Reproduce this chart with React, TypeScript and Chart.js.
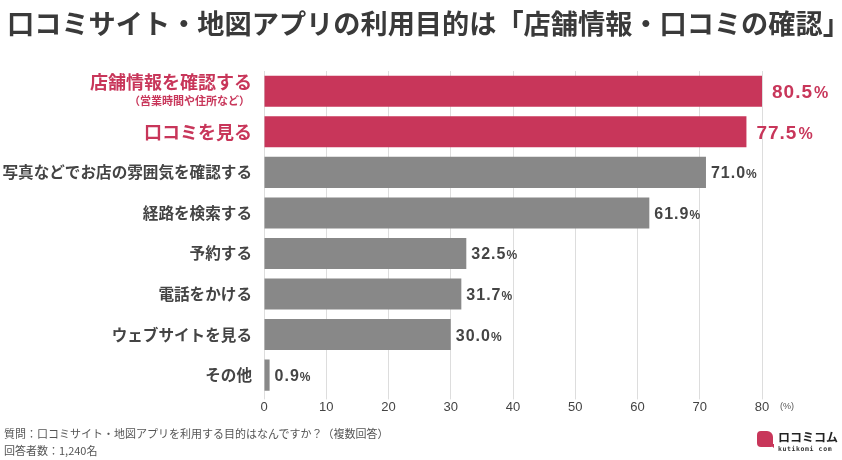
import React, { useEffect, useRef } from "react";
import { Chart, registerables } from "chart.js";

Chart.register(...registerables);

const categories = [
  "店舗情報を確認する",
  "口コミを見る",
  "写真などでお店の雰囲気を確認する",
  "経路を検索する",
  "予約する",
  "電話をかける",
  "ウェブサイトを見る",
  "その他",
];
const subLabels = ["（営業時間や住所など）", "", "", "", "", "", "", ""];
const values = [80.5, 77.5, 71.0, 61.9, 32.5, 31.7, 30.0, 0.9];
const highlighted = [true, true, false, false, false, false, false, false];
const xTicks = [0, 10, 20, 30, 40, 50, 60, 70, 80];

const PINK = "#C8365A";
const GRAY = "#888888";
const JP = '"Noto Sans CJK JP", "Noto Sans", sans-serif';
const NUM = '"Liberation Sans", Arial, sans-serif';

const labelPlugin = {
  id: "customLabels",
  afterDatasetsDraw(chart: any) {
    const ctx = chart.ctx;
    const meta = chart.getDatasetMeta(0);
    const area = chart.chartArea;
    ctx.save();
    meta.data.forEach((bar: any, i: number) => {
      const y = bar.y;
      const hi = highlighted[i];
      // category labels
      ctx.letterSpacing = "0px";
      ctx.textAlign = "right";
      ctx.textBaseline = "middle";
      if (hi) {
        ctx.fillStyle = PINK;
        ctx.font = `bold 18px ${JP}`;
        if (subLabels[i]) {
          ctx.fillText(categories[i], 252, y - 9);
          ctx.font = `bold 11px ${JP}`;
          ctx.fillText(subLabels[i], 250, y + 10);
        } else {
          ctx.fillText(categories[i], 252, y);
        }
      } else {
        ctx.fillStyle = "#444444";
        ctx.font = `bold 15.6px ${JP}`;
        ctx.fillText(categories[i], 252, y);
      }
      // value labels
      const endX = Math.min(bar.x, area.right);
      ctx.textAlign = "left";
      ctx.textBaseline = "alphabetic";
      const num = values[i].toFixed(1);
      if (hi) {
        ctx.fillStyle = PINK;
        ctx.font = `bold 19px ${NUM}`;
        ctx.letterSpacing = "1px";
        const x0 = endX + 10;
        ctx.fillText(num, x0, y + 7);
        const w = ctx.measureText(num).width;
        ctx.letterSpacing = "0px";
        ctx.font = `bold 16px ${NUM}`;
        ctx.fillText("%", x0 + w + 1, y + 7);
      } else {
        ctx.fillStyle = "#444444";
        ctx.font = `bold 16px ${NUM}`;
        ctx.letterSpacing = "1px";
        const x0 = endX + 5;
        ctx.fillText(num, x0, y + 6);
        const w = ctx.measureText(num).width;
        ctx.letterSpacing = "0px";
        ctx.font = `bold 12px ${NUM}`;
        ctx.fillText("%", x0 + w, y + 6);
      }
    });
    // (%) unit
    ctx.letterSpacing = "0px";
    ctx.fillStyle = "#555555";
    ctx.font = `9px ${NUM}`;
    ctx.textAlign = "left";
    ctx.textBaseline = "middle";
    ctx.fillText("(%)", area.right + 18, 407);
    ctx.restore();
  },
};

export default function App() {
  const ref = useRef<HTMLCanvasElement>(null);
  useEffect(() => {
    if (!ref.current) return;
    const chart = new Chart(ref.current, {
      type: "bar",
      data: {
        labels: categories,
        datasets: [
          {
            data: values,
            backgroundColor: highlighted.map((h) => (h ? PINK : GRAY)),
            borderWidth: 0,
            categoryPercentage: 0.765,
            barPercentage: 1,
          },
        ],
      },
      options: {
        indexAxis: "y",
        animation: false,
        responsive: false,
        maintainAspectRatio: false,
        layout: { padding: { left: 256, right: 80, top: 71, bottom: 45 } },
        plugins: {
          legend: { display: false },
          tooltip: { enabled: false },
          title: { display: false },
        },
        scales: {
          x: {
            min: 0,
            max: 80,
            afterBuildTicks: (axis: any) => {
              axis.ticks = xTicks.map((v) => ({ value: v }));
            },
            grid: { color: "#dddddd", tickLength: 4, drawTicks: true },
            border: { display: false },
            ticks: {
              color: "#444444",
              font: { family: NUM, size: 13 },
              padding: 0,
            },
          },
          y: {
            grid: { display: false },
            border: { display: false },
            ticks: { display: false },
          },
        },
      },
      plugins: [labelPlugin],
    });
    return () => chart.destroy();
  }, []);

  return (
    <div
      style={{
        position: "fixed",
        left: 0,
        top: 0,
        width: 842,
        height: 460,
        background: "#ffffff",
        overflow: "hidden",
      }}
    >
      <canvas ref={ref} width={842} height={460} style={{ position: "absolute", left: 0, top: 0 }} />
      <div
        style={{
          position: "absolute",
          left: 7,
          top: 5,
          fontFamily: JP,
          fontWeight: 700,
          fontSize: 27.2,
          lineHeight: "34px",
          color: "#3a3a3a",
          whiteSpace: "nowrap",
        }}
      >
        口コミサイト・地図アプリの利用目的は「店舗情報・口コミの確認」
      </div>
      <div
        style={{
          position: "absolute",
          left: 4,
          top: 425,
          fontFamily: JP,
          fontSize: 11,
          lineHeight: "17px",
          color: "#555555",
          whiteSpace: "nowrap",
        }}
      >
        <div>質問：口コミサイト・地図アプリを利用する目的はなんですか？（複数回答）</div>
        <div>回答者数：1,240名</div>
      </div>
      <div style={{ position: "absolute", left: 757, top: 431 }}>
        <div
          style={{
            position: "absolute",
            left: 0,
            top: 0,
            width: 16,
            height: 16,
            background: PINK,
            borderRadius: "4px 6px 2px 4px",
          }}
        />
        <div
          style={{
            position: "absolute",
            left: 12,
            top: 13,
            width: 5,
            height: 4,
            background: PINK,
            clipPath: "polygon(0 0, 100% 0, 100% 100%)",
          }}
        />
        <div
          style={{
            position: "absolute",
            left: 21,
            top: -1,
            fontFamily: JP,
            fontWeight: 700,
            fontSize: 12,
            lineHeight: "14px",
            color: "#222222",
            whiteSpace: "nowrap",
          }}
        >
          ロコミコム
        </div>
        <div
          style={{
            position: "absolute",
            left: 21,
            top: 14,
            fontFamily: '"DejaVu Sans Mono", monospace',
            fontWeight: 700,
            fontSize: 6.5,
            lineHeight: "8px",
            color: "#333333",
            letterSpacing: 0.6,
            whiteSpace: "nowrap",
          }}
        >
          kutikomi com
        </div>
      </div>
    </div>
  );
}
